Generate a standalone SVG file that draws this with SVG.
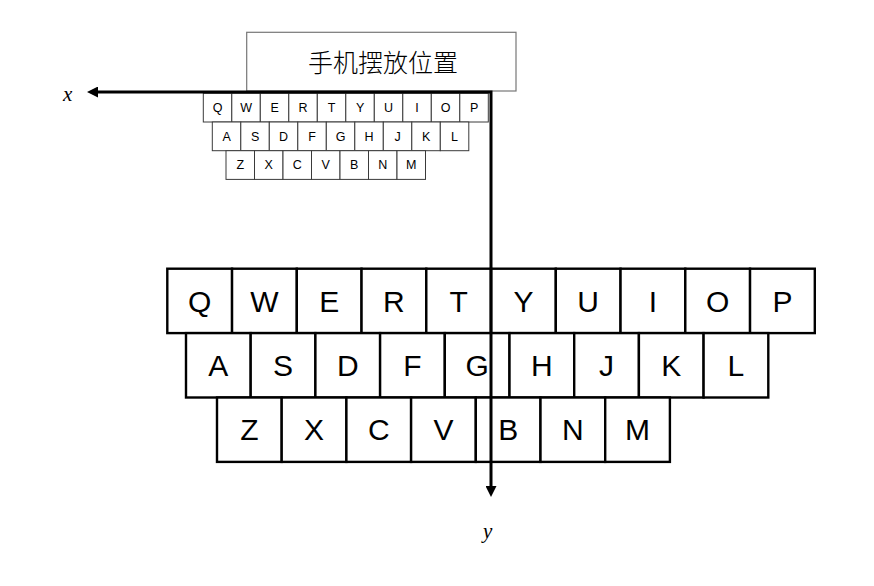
<svg xmlns="http://www.w3.org/2000/svg" width="874" height="586" viewBox="0 0 874 586">
<style>
.bk{fill:#fff;stroke:#000;stroke-width:2.4}
.bt{font-family:"Liberation Sans",Arial,sans-serif;font-size:30px;text-anchor:middle;fill:#000}
.sk{fill:#fff;stroke:#3a3a3a;stroke-width:1}
.st{font-family:"Liberation Sans",Arial,sans-serif;font-size:12.5px;text-anchor:middle;fill:#000}
.ax{fill:none;stroke:#000;stroke-width:3;stroke-linejoin:miter}
.lbl{font-family:"Liberation Serif","Times New Roman",serif;font-style:italic;font-size:21px;fill:#000}
</style>
<defs>
<marker id="arr" viewBox="0 0 11 11" refX="0" refY="5.5" markerWidth="11" markerHeight="11" markerUnits="userSpaceOnUse" orient="auto-start-reverse">
<path d="M0,0 L11,5.5 L0,11 z" fill="#000"/>
</marker>
</defs>
<rect width="874" height="586" fill="#fff"/>
<g id="phone-position">
<rect x="246.7" y="32.3" width="269.3" height="58.7" fill="#fff" stroke="#777" stroke-width="1.2"/>
<text x="383" y="72" font-family="'Noto Sans CJK SC',sans-serif" font-size="25" font-weight="300" text-anchor="middle" fill="#000">手机摆放位置</text>
</g>
<g id="small-keyboard">
<g id="sk-Q"><rect class="sk" x="203.3" y="93.3" width="28.5" height="28.7"/><text class="st" x="217.55" y="112">Q</text></g>
<g id="sk-W"><rect class="sk" x="231.8" y="93.3" width="28.5" height="28.7"/><text class="st" x="246.05" y="112">W</text></g>
<g id="sk-E"><rect class="sk" x="260.3" y="93.3" width="28.5" height="28.7"/><text class="st" x="274.55" y="112">E</text></g>
<g id="sk-R"><rect class="sk" x="288.8" y="93.3" width="28.5" height="28.7"/><text class="st" x="303.05" y="112">R</text></g>
<g id="sk-T"><rect class="sk" x="317.3" y="93.3" width="28.5" height="28.7"/><text class="st" x="331.55" y="112">T</text></g>
<g id="sk-Y"><rect class="sk" x="345.8" y="93.3" width="28.5" height="28.7"/><text class="st" x="360.05" y="112">Y</text></g>
<g id="sk-U"><rect class="sk" x="374.3" y="93.3" width="28.5" height="28.7"/><text class="st" x="388.55" y="112">U</text></g>
<g id="sk-I"><rect class="sk" x="402.8" y="93.3" width="28.5" height="28.7"/><text class="st" x="417.05" y="112">I</text></g>
<g id="sk-O"><rect class="sk" x="431.3" y="93.3" width="28.5" height="28.7"/><text class="st" x="445.55" y="112">O</text></g>
<g id="sk-P"><rect class="sk" x="459.8" y="93.3" width="28.5" height="28.7"/><text class="st" x="474.05" y="112">P</text></g>
<g id="sk-A"><rect class="sk" x="212.3" y="122" width="28.5" height="28.7"/><text class="st" x="226.55" y="140.6">A</text></g>
<g id="sk-S"><rect class="sk" x="240.8" y="122" width="28.5" height="28.7"/><text class="st" x="255.05" y="140.6">S</text></g>
<g id="sk-D"><rect class="sk" x="269.3" y="122" width="28.5" height="28.7"/><text class="st" x="283.55" y="140.6">D</text></g>
<g id="sk-F"><rect class="sk" x="297.8" y="122" width="28.5" height="28.7"/><text class="st" x="312.05" y="140.6">F</text></g>
<g id="sk-G"><rect class="sk" x="326.3" y="122" width="28.5" height="28.7"/><text class="st" x="340.55" y="140.6">G</text></g>
<g id="sk-H"><rect class="sk" x="354.8" y="122" width="28.5" height="28.7"/><text class="st" x="369.05" y="140.6">H</text></g>
<g id="sk-J"><rect class="sk" x="383.3" y="122" width="28.5" height="28.7"/><text class="st" x="397.55" y="140.6">J</text></g>
<g id="sk-K"><rect class="sk" x="411.8" y="122" width="28.5" height="28.7"/><text class="st" x="426.05" y="140.6">K</text></g>
<g id="sk-L"><rect class="sk" x="440.3" y="122" width="28.5" height="28.7"/><text class="st" x="454.55" y="140.6">L</text></g>
<g id="sk-Z"><rect class="sk" x="226" y="150.7" width="28.5" height="28.7"/><text class="st" x="240.25" y="169.3">Z</text></g>
<g id="sk-X"><rect class="sk" x="254.5" y="150.7" width="28.5" height="28.7"/><text class="st" x="268.75" y="169.3">X</text></g>
<g id="sk-C"><rect class="sk" x="283" y="150.7" width="28.5" height="28.7"/><text class="st" x="297.25" y="169.3">C</text></g>
<g id="sk-V"><rect class="sk" x="311.5" y="150.7" width="28.5" height="28.7"/><text class="st" x="325.75" y="169.3">V</text></g>
<g id="sk-B"><rect class="sk" x="340" y="150.7" width="28.5" height="28.7"/><text class="st" x="354.25" y="169.3">B</text></g>
<g id="sk-N"><rect class="sk" x="368.5" y="150.7" width="28.5" height="28.7"/><text class="st" x="382.75" y="169.3">N</text></g>
<g id="sk-M"><rect class="sk" x="397" y="150.7" width="28.5" height="28.7"/><text class="st" x="411.25" y="169.3">M</text></g>
</g>
<g id="big-keyboard">
<g id="bk-Q"><rect class="bk" x="167.3" y="268.7" width="64.75" height="64.4"/><text class="bt" x="199.68" y="311.6">Q</text></g>
<g id="bk-W"><rect class="bk" x="232.05" y="268.7" width="64.75" height="64.4"/><text class="bt" x="264.43" y="311.6">W</text></g>
<g id="bk-E"><rect class="bk" x="296.8" y="268.7" width="64.75" height="64.4"/><text class="bt" x="329.18" y="311.6">E</text></g>
<g id="bk-R"><rect class="bk" x="361.55" y="268.7" width="64.75" height="64.4"/><text class="bt" x="393.93" y="311.6">R</text></g>
<g id="bk-T"><rect class="bk" x="426.3" y="268.7" width="64.75" height="64.4"/><text class="bt" x="458.68" y="311.6">T</text></g>
<g id="bk-Y"><rect class="bk" x="491.05" y="268.7" width="64.75" height="64.4"/><text class="bt" x="523.43" y="311.6">Y</text></g>
<g id="bk-U"><rect class="bk" x="555.8" y="268.7" width="64.75" height="64.4"/><text class="bt" x="588.18" y="311.6">U</text></g>
<g id="bk-I"><rect class="bk" x="620.55" y="268.7" width="64.75" height="64.4"/><text class="bt" x="652.93" y="311.6">I</text></g>
<g id="bk-O"><rect class="bk" x="685.3" y="268.7" width="64.75" height="64.4"/><text class="bt" x="717.68" y="311.6">O</text></g>
<g id="bk-P"><rect class="bk" x="750.05" y="268.7" width="64.75" height="64.4"/><text class="bt" x="782.43" y="311.6">P</text></g>
<g id="bk-A"><rect class="bk" x="186" y="333.1" width="64.7" height="64.4"/><text class="bt" x="218.35" y="376">A</text></g>
<g id="bk-S"><rect class="bk" x="250.7" y="333.1" width="64.7" height="64.4"/><text class="bt" x="283.05" y="376">S</text></g>
<g id="bk-D"><rect class="bk" x="315.4" y="333.1" width="64.7" height="64.4"/><text class="bt" x="347.75" y="376">D</text></g>
<g id="bk-F"><rect class="bk" x="380.1" y="333.1" width="64.7" height="64.4"/><text class="bt" x="412.45" y="376">F</text></g>
<g id="bk-G"><rect class="bk" x="444.8" y="333.1" width="64.7" height="64.4"/><text class="bt" x="477.15" y="376">G</text></g>
<g id="bk-H"><rect class="bk" x="509.5" y="333.1" width="64.7" height="64.4"/><text class="bt" x="541.85" y="376">H</text></g>
<g id="bk-J"><rect class="bk" x="574.2" y="333.1" width="64.7" height="64.4"/><text class="bt" x="606.55" y="376">J</text></g>
<g id="bk-K"><rect class="bk" x="638.9" y="333.1" width="64.7" height="64.4"/><text class="bt" x="671.25" y="376">K</text></g>
<g id="bk-L"><rect class="bk" x="703.6" y="333.1" width="64.7" height="64.4"/><text class="bt" x="735.95" y="376">L</text></g>
<g id="bk-Z"><rect class="bk" x="217" y="397.5" width="64.7" height="64.4"/><text class="bt" x="249.35" y="440.4">Z</text></g>
<g id="bk-X"><rect class="bk" x="281.7" y="397.5" width="64.7" height="64.4"/><text class="bt" x="314.05" y="440.4">X</text></g>
<g id="bk-C"><rect class="bk" x="346.4" y="397.5" width="64.7" height="64.4"/><text class="bt" x="378.75" y="440.4">C</text></g>
<g id="bk-V"><rect class="bk" x="411.1" y="397.5" width="64.7" height="64.4"/><text class="bt" x="443.45" y="440.4">V</text></g>
<g id="bk-B"><rect class="bk" x="475.8" y="397.5" width="64.7" height="64.4"/><text class="bt" x="508.15" y="440.4">B</text></g>
<g id="bk-N"><rect class="bk" x="540.5" y="397.5" width="64.7" height="64.4"/><text class="bt" x="572.85" y="440.4">N</text></g>
<g id="bk-M"><rect class="bk" x="605.2" y="397.5" width="64.7" height="64.4"/><text class="bt" x="637.55" y="440.4">M</text></g>
</g>
<g id="connectors">
<path class="ax" d="M98,92 L491,92 L491,486" marker-start="url(#arr)" marker-end="url(#arr)"/>
</g>
<g id="axis-labels">
<text class="lbl" x="63" y="101">x</text>
<text class="lbl" x="483" y="538">y</text>
</g>
</svg>
